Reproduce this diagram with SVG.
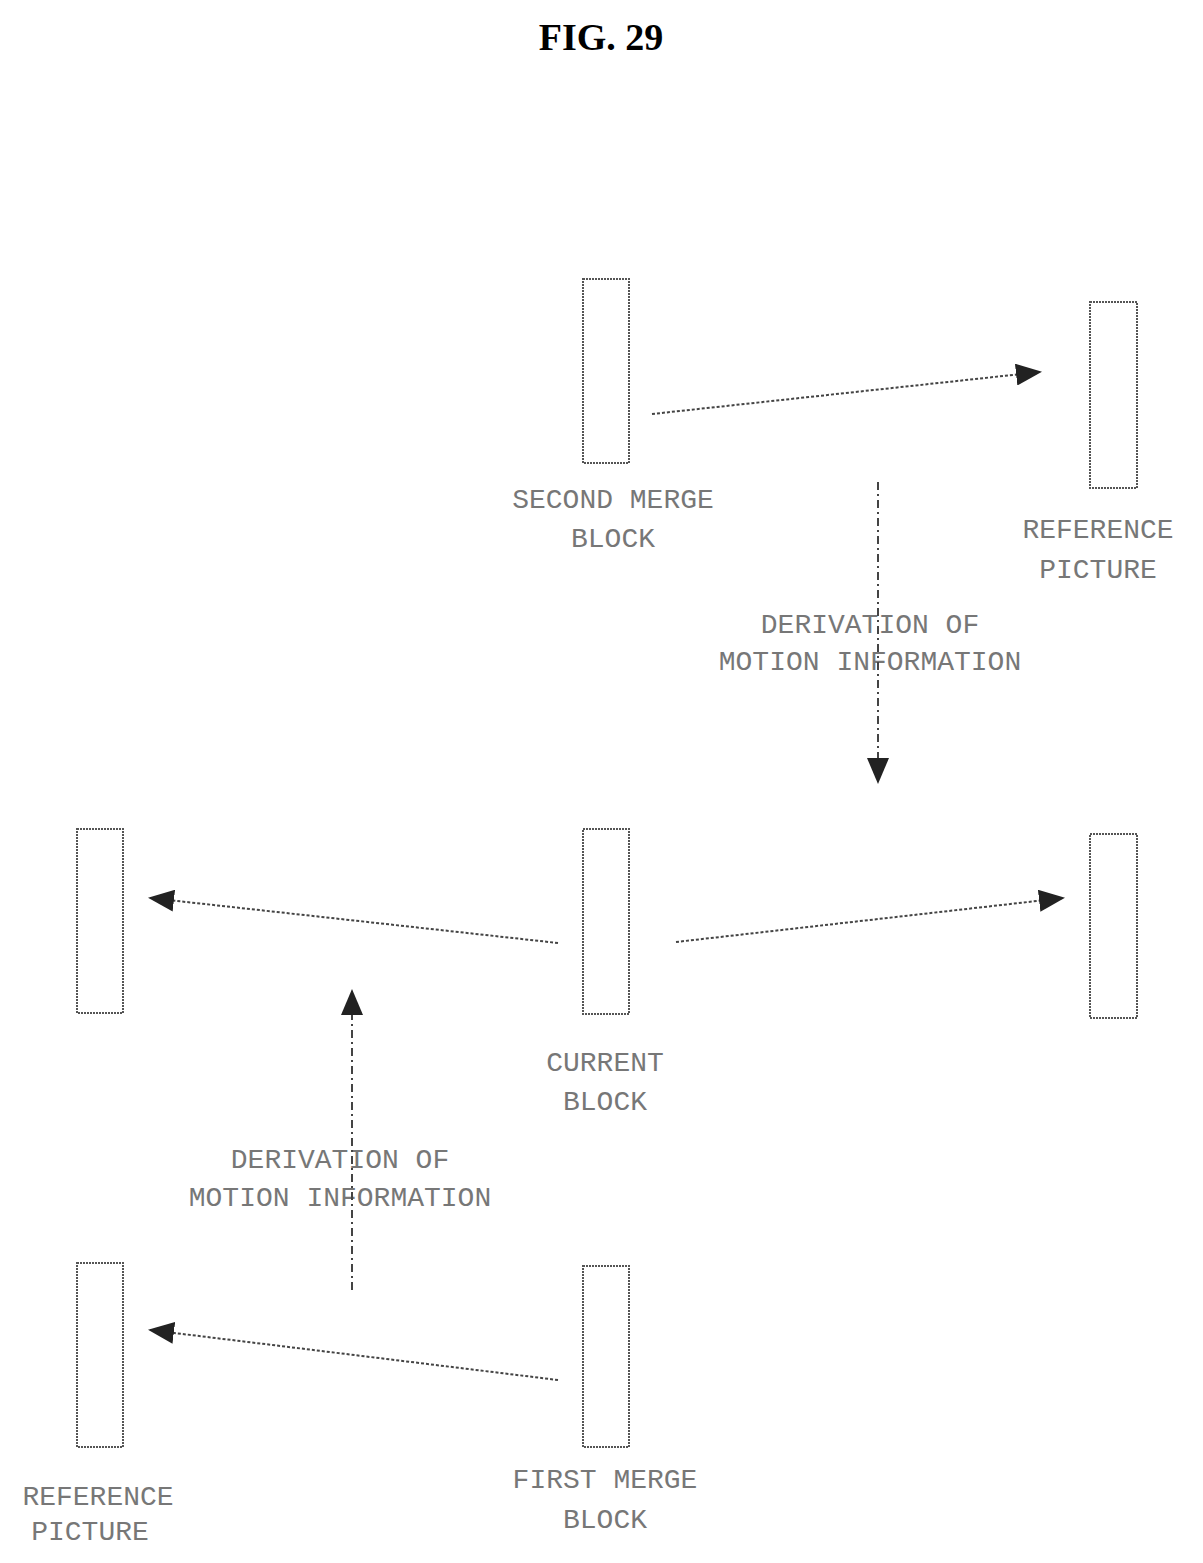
<svg xmlns="http://www.w3.org/2000/svg" width="1203" height="1563" viewBox="0 0 1203 1563">
<style>
.b{fill:none;stroke:#555;stroke-width:2;stroke-dasharray:2 1}
.c{stroke:#444;stroke-width:2;stroke-dasharray:3 2;fill:none}
.d{stroke:#444;stroke-width:2;stroke-dasharray:8 4 2 4;fill:none}
.t{font-family:"Liberation Mono",monospace;font-size:28px;fill:#777;text-anchor:middle}
</style>
<defs><marker id="a" markerWidth="12" markerHeight="12" refX="10" refY="6" orient="auto" markerUnits="userSpaceOnUse"><path d="M0,0 L12,6 L0,12 z" fill="#222"/></marker>
<marker id="a2" markerWidth="26" markerHeight="22" refX="24" refY="11" orient="auto" markerUnits="userSpaceOnUse"><path d="M0,0 L26,11 L0,22 z" fill="#222"/></marker></defs>
<rect width="1203" height="1563" fill="#fff"/>
<text x="601" y="50" font-family="Liberation Serif,serif" font-weight="bold" font-size="38" text-anchor="middle">FIG. 29</text>
<g id="second"><rect class="b" x="583" y="279" width="46" height="184"/><text class="t" x="613" y="508">SECOND MERGE</text><text class="t" x="613" y="547">BLOCK</text></g>
<g id="reftop"><rect class="b" x="1090" y="302" width="47" height="186"/><text class="t" x="1098" y="538">REFERENCE</text><text class="t" x="1098" y="578">PICTURE</text></g>
<g id="leftmid"><rect class="b" x="77" y="829" width="46" height="184"/></g>
<g id="current"><rect class="b" x="583" y="829" width="46" height="185"/><text class="t" x="605" y="1071">CURRENT</text><text class="t" x="605" y="1110">BLOCK</text></g>
<g id="rightmid"><rect class="b" x="1090" y="834" width="47" height="184"/></g>
<g id="refbot"><rect class="b" x="77" y="1263" width="46" height="184"/><text class="t" x="98" y="1505">REFERENCE</text><text class="t" x="90" y="1540">PICTURE</text></g>
<g id="first"><rect class="b" x="583" y="1266" width="46" height="181"/><text class="t" x="605" y="1488">FIRST MERGE</text><text class="t" x="605" y="1528">BLOCK</text></g>
<g id="labels"><text class="t" x="870" y="633">DERIVATION OF</text><text class="t" x="870" y="670">MOTION INFORMATION</text>
<text class="t" x="340" y="1168">DERIVATION OF</text><text class="t" x="340" y="1206">MOTION INFORMATION</text></g>
<g id="connectors">
<line class="c" x1="652" y1="414" x2="1040" y2="372" marker-end="url(#a2)"/>
<line class="d" x1="878" y1="482" x2="878" y2="782" marker-end="url(#a2)"/>
<line class="c" x1="558" y1="943" x2="150" y2="898" marker-end="url(#a2)"/>
<line class="c" x1="676" y1="942" x2="1063" y2="898" marker-end="url(#a2)"/>
<line class="d" x1="352" y1="1290" x2="352" y2="991" marker-end="url(#a2)"/>
<line class="c" x1="558" y1="1380" x2="150" y2="1330" marker-end="url(#a2)"/>
</g>
</svg>
